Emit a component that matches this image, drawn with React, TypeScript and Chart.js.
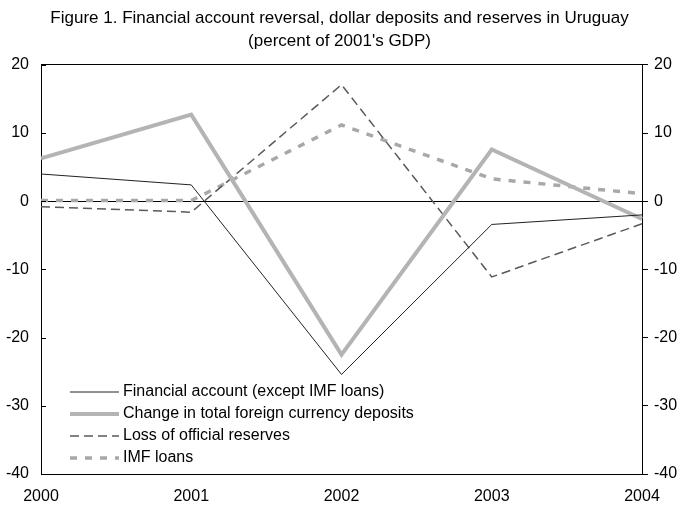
import React, { useEffect, useRef } from "react";
import { Chart, registerables } from "chart.js";

Chart.register(...registerables);

const years = ["2000", "2001", "2002", "2003", "2004"];
const financialAccount = [4.0, 2.4, -25.4, -3.4, -2.0];
const depositChange = [6.3, 12.7, -22.5, 7.6, -2.6];
const reserveLoss = [-0.8, -1.6, 17.1, -11.1, -3.3];
const imfLoans = [0.1, 0.1, 11.2, 3.3, 1.1];
const yTicks = [20, 10, 0, -10, -20, -30, -40];
const titleLines = [
  "Figure 1. Financial account reversal, dollar deposits and reserves in Uruguay",
  "(percent of 2001's GDP)",
];
const seriesNames = [
  "Financial account (except IMF loans)",
  "Change in total foreign currency deposits",
  "Loss of official reserves",
  "IMF loans",
];

const FONT = "'Liberation Sans', Arial, sans-serif";

const innerTicks = {
  id: "innerTicks",
  afterDraw(chart: any) {
    const y = chart.scales.y;
    const ctx = chart.ctx;
    const left = chart.chartArea.left;
    ctx.save();
    ctx.strokeStyle = "#000";
    ctx.lineWidth = 1;
    y.ticks.forEach((t: any, i: number) => {
      const py = Math.round(y.getPixelForTick(i)) + 0.5;
      ctx.beginPath();
      ctx.moveTo(left, py);
      ctx.lineTo(left + 5, py);
      ctx.stroke();
    });
    ctx.restore();
  },
};

const insideLegend = {
  id: "insideLegend",
  afterDraw(chart: any) {
    const ctx = chart.ctx;
    const x0 = 70;
    const x1 = 119;
    const tx = 123;
    const ys = [392, 414, 436, 458];
    ctx.save();
    chart.data.datasets.forEach((ds: any, i: number) => {
      const y = ys[i];
      ctx.beginPath();
      ctx.strokeStyle = ds.borderColor;
      ctx.lineWidth = ds.borderWidth;
      ctx.setLineDash(ds.borderDash || []);
      ctx.moveTo(x0, y);
      ctx.lineTo(x1, y);
      ctx.stroke();
      ctx.setLineDash([]);
      ctx.fillStyle = "#000";
      ctx.font = `16px ${FONT}`;
      ctx.textBaseline = "middle";
      ctx.textAlign = "left";
      ctx.fillText(ds.label, tx, y);
    });
    ctx.restore();
  },
};

export default function App() {
  const ref = useRef<HTMLCanvasElement | null>(null);
  useEffect(() => {
    if (!ref.current) return;
    const chart = new Chart(ref.current, {
      type: "line",
      data: {
        labels: years,
        datasets: [
          {
            label: seriesNames[0],
            data: financialAccount,
            borderColor: "#222222",
            borderWidth: 1,
            pointRadius: 0,
            tension: 0,
          },
          {
            label: seriesNames[1],
            data: depositChange,
            borderColor: "#b4b4b4",
            borderWidth: 4,
            pointRadius: 0,
            tension: 0,
          },
          {
            label: seriesNames[2],
            data: reserveLoss,
            borderColor: "#5a5a5a",
            borderWidth: 1.5,
            borderDash: [9, 5],
            pointRadius: 0,
            tension: 0,
          },
          {
            label: seriesNames[3],
            data: imfLoans,
            borderColor: "#a8a8a8",
            borderWidth: 3.5,
            borderDash: [7, 8],
            pointRadius: 0,
            tension: 0,
          },
        ],
      },
      options: {
        animation: false,
        responsive: true,
        maintainAspectRatio: false,
        layout: { padding: { left: 0, right: 0, top: 0, bottom: 0 } },
        plugins: {
          legend: { display: false },
          tooltip: { enabled: false },
          title: {
            display: true,
            text: titleLines,
            color: "#000",
            font: { family: FONT, size: 17, weight: "normal", lineHeight: 1.35 },
            padding: { top: 7, bottom: 12 },
          },
        },
        scales: {
          x: {
            type: "category",
            offset: false,
            grid: { display: false, drawTicks: false },
            border: { display: true, color: "#000", width: 1 },
            ticks: {
              color: "#000",
              font: { family: FONT, size: 16 },
              padding: 13,
              maxRotation: 0,
              autoSkip: false,
            },
            afterFit: (s: any) => {
              s.height = 31;
            },
          },
          y: {
            position: "left",
            min: -40,
            max: 20,
            afterBuildTicks: (s: any) => {
              s.ticks = yTicks.map((v) => ({ value: v }));
            },
            grid: {
              drawTicks: false,
              color: (c: any) =>
                c.tick && (c.tick.value === 0 || c.tick.value === 20) ? "#000" : "rgba(0,0,0,0)",
              lineWidth: 1,
            },
            border: { display: true, color: "#000", width: 1 },
            ticks: {
              color: "#000",
              font: { family: FONT, size: 16 },
              padding: 12,
            },
            afterFit: (s: any) => {
              s.width = 41;
            },
          },
          y2: {
            position: "right",
            min: -40,
            max: 20,
            afterBuildTicks: (s: any) => {
              s.ticks = yTicks.map((v) => ({ value: v }));
            },
            grid: {
              drawOnChartArea: false,
              drawTicks: true,
              tickLength: 6,
              tickColor: "#000",
              color: "#000",
            },
            border: { display: true, color: "#000", width: 1 },
            ticks: {
              color: "#000",
              font: { family: FONT, size: 16 },
              padding: 6,
            },
            afterFit: (s: any) => {
              s.width = 37;
            },
          },
        },
      },
      plugins: [innerTicks, insideLegend],
    });
    return () => chart.destroy();
  }, []);
  return (
    <div style={{ position: "absolute", left: 0, top: 0, width: 679, height: 505, background: "#fff" }}>
      <canvas ref={ref} />
    </div>
  );
}
